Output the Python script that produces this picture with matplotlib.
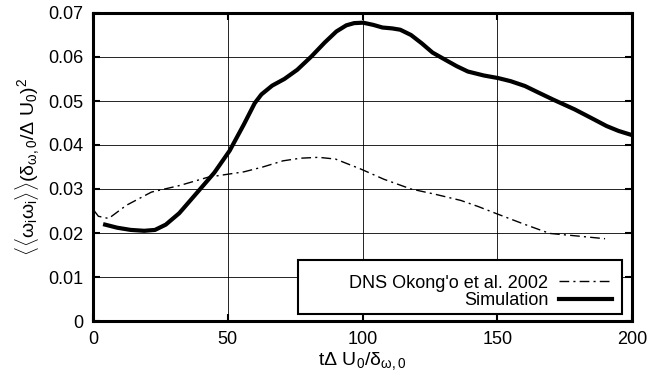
import matplotlib
matplotlib.use("Agg")
import matplotlib.pyplot as plt
from matplotlib.patches import Rectangle
from matplotlib.ticker import MultipleLocator

# ── data ────────────────────────────────────────────────────
sim_t = [4.5, 9, 14, 19, 23, 27, 32, 38.8, 45, 50.7, 56, 60, 62.5, 66.5,
         71, 75.8, 81, 86, 90.3, 94, 96.9, 100.2, 104, 107.4, 111, 114,
         118, 122, 126, 131.2, 135, 139.1, 145, 150.4, 155, 160.3, 165,
         170.8, 178.7, 185, 190.6, 195, 199.2]
sim_val = [0.0219, 0.0212, 0.0207, 0.0205, 0.0207, 0.0219, 0.0245, 0.0293,
           0.0337, 0.0387, 0.0447, 0.0495, 0.0515, 0.0535, 0.0550, 0.0571,
           0.0601, 0.0633, 0.0658, 0.0672, 0.0677, 0.0678, 0.0673, 0.0667,
           0.0665, 0.0662, 0.0650, 0.0631, 0.0610, 0.0592, 0.0579, 0.0567,
           0.0558, 0.0552, 0.0545, 0.0534, 0.0520, 0.0503, 0.0481, 0.0461,
           0.0443, 0.0432, 0.0424]

dns_t = [0.5, 2, 5.8, 12.4, 21.7, 32.2, 42.8, 56, 63, 70.5, 77, 83.7, 90,
         99.5, 108, 118, 127, 136.5, 143, 149.7, 160, 169.5, 180, 190]
dns_val = [0.0250, 0.0238, 0.0233, 0.0263, 0.0293, 0.0308, 0.0327, 0.0339,
           0.0350, 0.0364, 0.0370, 0.0372, 0.0368, 0.0345, 0.0322, 0.0300,
           0.0288, 0.0274, 0.0260, 0.0244, 0.0220, 0.0199, 0.0193, 0.0187]

plt.rcParams["font.family"] = ["Liberation Sans", "DejaVu Sans"]
plt.rcParams["mathtext.fontset"] = "custom"
plt.rcParams["mathtext.rm"] = "Liberation Sans"
plt.rcParams["mathtext.it"] = "Liberation Sans"
plt.rcParams["mathtext.bf"] = "Liberation Sans:bold"

fig = plt.figure(figsize=(6.5, 3.85), dpi=100)
ax = fig.add_axes([93 / 650, 64 / 385, 539 / 650, 308 / 385])

ax.plot(dns_t, dns_val, color="black", lw=1.0, ls=(0, (7, 3, 1.5, 3)),
        label="DNS Okong'o et al. 2002")
ax.plot(sim_t, sim_val, color="black", lw=3.0, label="Simulation")

ax.set_xlim(0, 200)
ax.set_ylim(0, 0.07)
ax.xaxis.set_major_locator(MultipleLocator(50))
ax.yaxis.set_major_locator(MultipleLocator(0.01))
ax.yaxis.set_major_formatter(plt.FuncFormatter(lambda v, p: f"{v:g}"))
ax.grid(True, color="black", lw=0.6)
ax.set_axisbelow(True)
ax.tick_params(direction="in", length=5, width=1.5, top=True, right=True,
               labelsize=13, pad=7)
for s in ax.spines.values():
    s.set_linewidth(2.2)

ax.set_xlabel(r"t$\Delta$ U$_0$/$\delta_{\omega,0}$", fontsize=14, labelpad=2)
ax.set_ylabel(r"$\langle\langle\omega_i\omega_i\rangle\rangle(\delta_{\omega,0}/\Delta\ U_0)^2$",
              fontsize=14, labelpad=4)

# gnuplot-style key: wide box, text right-aligned, sample on the right
ax.add_patch(Rectangle((0.380, 0.023), 0.601, 0.175, transform=ax.transAxes,
                       facecolor="white", edgecolor="black", lw=1.5,
                       zorder=4))
leg = ax.legend(loc="center right", bbox_to_anchor=(0.962, 0.094),
                fontsize=13, markerfirst=False, frameon=False,
                handlelength=2.9, handletextpad=0.6, borderpad=0,
                borderaxespad=0, labelspacing=0.05)
leg.set_zorder(5)

fig.savefig("out.png", dpi=100)
